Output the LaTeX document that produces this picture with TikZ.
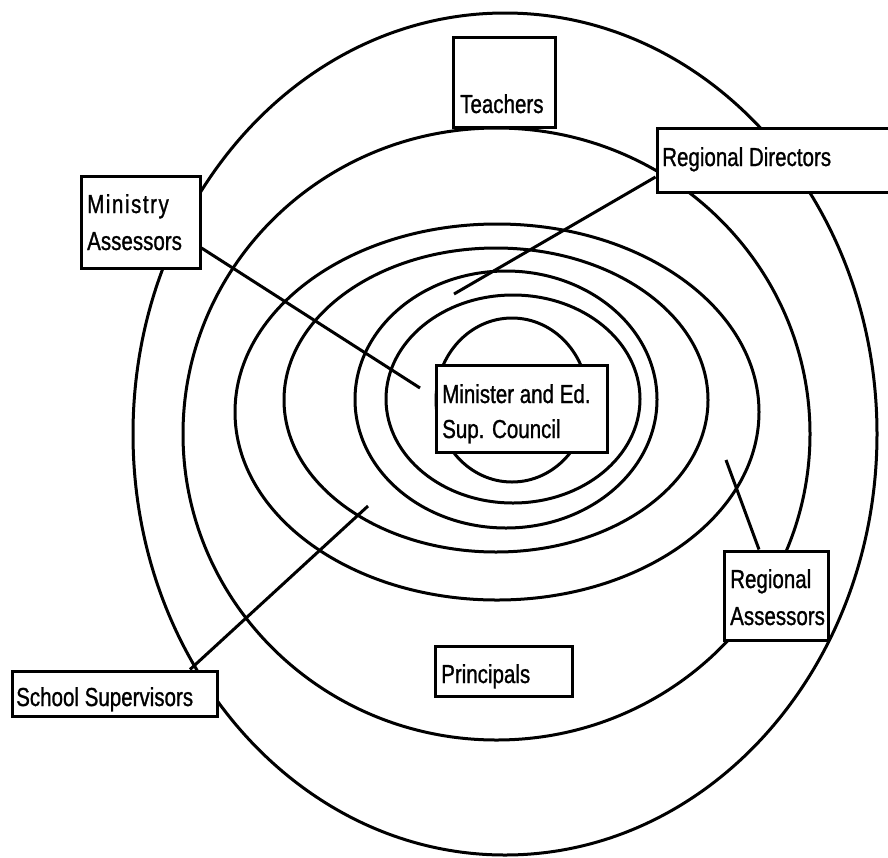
\documentclass[tikz,border=0pt]{standalone}
\usepackage{fontspec}
\setmainfont{Liberation Sans}[FakeStretch=0.79,FakeBold=1]
\begin{document}
\begin{tikzpicture}[x=1pt,y=-1pt,
  ring/.style={line width=3pt},
  conn/.style={line width=3pt},
  box/.style={draw,fill=white,line width=3pt,rectangle,inner sep=0pt},
  lbl/.style={anchor=base west,inner sep=0pt,font=\fontsize{26}{30}\selectfont}]
\useasboundingbox (0,0) rectangle (888,857);
% concentric rings
\draw[ring] (505,434) ellipse [x radius=372pt, y radius=421pt];
\draw[ring] (496.5,434) ellipse [x radius=313.5pt, y radius=306pt];
\draw[ring] (497,412) ellipse [x radius=262pt, y radius=188pt];
\draw[ring] (496,400) ellipse [x radius=212pt, y radius=152pt];
\draw[ring] (506,399.5) ellipse [x radius=151pt, y radius=128.5pt];
\draw[ring] (513,399) ellipse [x radius=127pt, y radius=104pt];
\draw[ring] (512,400) ellipse [x radius=76pt, y radius=82pt];
% boxes
\node[box,minimum width=102pt,minimum height=90pt] (teach) at (504,82) {};
\node[box,minimum width=236pt,minimum height=64pt] (rd) at (775,160) {};
\node[box,minimum width=119pt,minimum height=92pt] (ma) at (140.5,222) {};
\node[box,minimum width=171pt,minimum height=87pt] (min) at (521.5,408.5) {};
\node[box,minimum width=104pt,minimum height=89pt] (ra) at (776,595.5) {};
\node[box,minimum width=137pt,minimum height=50pt] (pr) at (503.5,671) {};
\node[box,minimum width=205pt,minimum height=45pt] (ss) at (114.5,693.5) {};
% connector ends
\coordinate (maEnd) at (420,388);
\coordinate (rdEnd) at (454,294);
\coordinate (ssEnd) at (368,506);
\coordinate (raEnd) at (726,460);
\draw[conn] ([yshift=-26pt]ma.east) -- (maEnd);
\draw[conn] ([yshift=-17pt]rd.west) -- (rdEnd);
\draw[conn] ([xshift=75.5pt]ss.north) -- (ssEnd);
\draw[conn] ([xshift=-17pt]ra.north) -- (raEnd);
% labels
\node[lbl] (teachT) at (460,113) {Teachers};
\node[lbl] (rdT) at (662,166) {Regional Directors};
\node[lbl] (maT1) at (87,213) {\addfontfeature{LetterSpace=6}Ministry};
\node[lbl] (maT2) at (87,250) {Assessors};
\node[lbl] (minT1) at (442,403) {Minister and Ed.};
\node[lbl] (minT2) at (442,438) {Sup. Council};
\node[lbl] (raT1) at (730,588) {Regional};
\node[lbl] (raT2) at (730,625) {Assessors};
\node[lbl] (prT) at (441,683) {Principals};
\node[lbl] (ssT) at (16,706) {School Supervisors};
\end{tikzpicture}
\end{document}
